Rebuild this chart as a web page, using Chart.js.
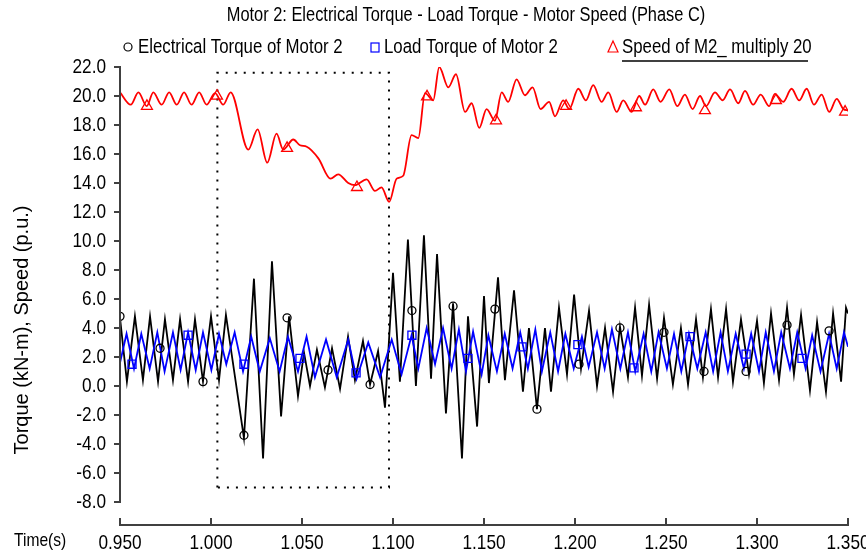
<!DOCTYPE html>
<html>
<head>
<meta charset="utf-8">
<script src="https://cdn.jsdelivr.net/npm/chart.js@4.4.1/dist/chart.umd.min.js"></script>
<style>
  body { margin: 0; background: #fff; }
  canvas { display: block; }
</style>
</head>
<body>
<canvas id="motorChart" width="866" height="560"></canvas>
<script>
// axis ticks
const xTicks = [0.95, 1.0, 1.05, 1.1, 1.15, 1.2, 1.25, 1.3, 1.35];
const yTicks = [-8, -6, -4, -2, 0, 2, 4, 6, 8, 10, 12, 14, 16, 18, 20, 22];

// electrical torque of motor 2 (kN-m), peaks and troughs
const elecTime = [0.9500,0.9538,0.9582,0.9626,0.9665,0.9709,0.9747,0.9791,0.9830,0.9874,
  0.9912,0.9956,1.0000,1.0044,1.0082,1.0181,1.0236,1.0286,1.0335,1.0385,
  1.0429,1.0478,1.0511,1.0544,1.0582,1.0626,1.0665,1.0709,1.0753,1.0791,
  1.0835,1.0874,1.0918,1.0956,1.1000,1.1038,1.1082,1.1126,1.1170,1.1209,
  1.1242,1.1291,1.1330,1.1379,1.1412,1.1462,1.1500,1.1527,1.1577,1.1615,
  1.1665,1.1714,1.1747,1.1791,1.1835,1.1868,1.1912,1.1956,1.1995,1.2033,
  1.2077,1.2121,1.2165,1.2209,1.2247,1.2291,1.2330,1.2368,1.2407,1.2451,
  1.2489,1.2538,1.2582,1.2621,1.2665,1.2703,1.2747,1.2786,1.2830,1.2868,
  1.2912,1.2956,1.3000,1.3038,1.3077,1.3121,1.3165,1.3203,1.3242,1.3291,
  1.3330,1.3379,1.3418,1.3462,1.3489,1.3500];
const elecTorque = [4.7,0.3,4.8,0.4,4.8,0.3,4.6,0.4,4.6,0.3,
  4.6,0.3,4.8,0.4,4.9,-3.6,7.4,-5.0,8.6,-2.1,
  4.8,-0.7,2.3,0.0,2.5,-0.1,2.6,-0.2,3.4,0.4,
  3.1,0.1,2.4,-1.5,7.8,0.3,10.1,0.0,10.4,0.5,
  9.1,-1.9,5.7,-5.0,4.8,-2.8,6.2,0.2,7.5,0.4,
  6.6,-0.4,4.0,-1.6,4.0,-0.4,5.4,0.8,6.3,1.2,
  5.2,0.0,4.0,-0.4,4.1,0.6,5.4,0.7,5.6,0.5,
  4.7,0.1,4.0,0.1,4.6,0.6,5.3,0.6,5.3,0.3,
  4.6,0.8,4.5,0.2,5.0,0.4,5.4,0.8,4.9,-0.3,
  4.4,-0.4,5.0,0.3,5.4,5.0];

// load torque of motor 2 (kN-m)
const loadTime = [0.9500,0.9536,0.9577,0.9617,0.9663,0.9705,0.9745,0.9791,0.9833,0.9874,
  0.9916,0.9956,1.0002,1.0044,1.0084,1.0130,1.0176,1.0221,1.0268,1.0323,
  1.0377,1.0423,1.0478,1.0525,1.0571,1.0632,1.0691,1.0754,1.0800,1.0864,
  1.0929,1.0993,1.1047,1.1102,1.1139,1.1185,1.1231,1.1275,1.1322,1.1362,
  1.1401,1.1440,1.1487,1.1524,1.1571,1.1614,1.1657,1.1699,1.1741,1.1782,
  1.1818,1.1864,1.1907,1.1947,1.1993,1.2038,1.2075,1.2121,1.2163,1.2203,
  1.2249,1.2291,1.2331,1.2377,1.2419,1.2459,1.2505,1.2544,1.2584,1.2626,
  1.2672,1.2718,1.2759,1.2800,1.2840,1.2883,1.2928,1.2968,1.3011,1.3048,
  1.3093,1.3133,1.3181,1.3221,1.3267,1.3303,1.3349,1.3396,1.3438,1.3478,
  1.3500];
const loadTorque = [1.6,3.6,1.2,3.6,1.2,3.7,1.0,3.7,1.1,3.7,
  1.1,3.7,1.1,3.6,1.5,3.7,1.0,3.4,1.0,3.3,
  1.0,3.4,1.0,3.4,0.6,3.2,0.6,3.2,0.5,3.0,
  0.6,3.2,0.8,3.5,1.2,4.0,1.5,4.0,1.2,3.9,
  1.0,3.75,0.8,3.5,1.0,3.6,1.2,3.7,1.2,3.9,
  1.0,3.7,1.0,3.6,1.2,3.4,1.3,3.7,1.2,3.9,
  1.2,3.7,1.0,3.6,1.0,3.7,1.2,3.6,1.0,3.6,
  1.2,3.7,1.0,3.7,1.0,3.6,1.2,3.6,1.0,3.7,
  1.0,3.7,1.2,3.7,1.2,3.5,1.0,3.6,1.2,3.7,
  2.7];

// speed of M2 x 20 (p.u.)
const speedTime = [0.9500,0.9559,0.9601,0.9647,0.9683,0.9729,0.9770,0.9812,0.9852,0.9893,
  0.9935,0.9976,1.0022,1.0067,1.0108,1.0205,1.0256,1.0309,1.0360,1.0397,
  1.0452,1.0489,1.0526,1.0590,1.0657,1.0699,1.0754,1.0791,1.0855,1.0901,
  1.0937,1.0979,1.1020,1.1056,1.1102,1.1139,1.1176,1.1221,1.1254,1.1304,
  1.1346,1.1396,1.1432,1.1474,1.1514,1.1560,1.1597,1.1633,1.1679,1.1725,
  1.1767,1.1811,1.1858,1.1890,1.1935,1.1968,1.2018,1.2060,1.2100,1.2146,
  1.2183,1.2229,1.2265,1.2311,1.2353,1.2385,1.2430,1.2470,1.2518,1.2562,
  1.2604,1.2646,1.2687,1.2720,1.2769,1.2811,1.2852,1.2897,1.2934,1.2979,
  1.3020,1.3067,1.3098,1.3144,1.3190,1.3232,1.3273,1.3313,1.3355,1.3397,
  1.3438,1.3474,1.3500];
const speedVal = [20.25,19.4,20.25,19.3,20.25,19.4,20.25,19.4,20.25,19.4,
  20.25,19.4,20.2,19.4,20.25,16.3,17.7,15.4,17.4,16.3,
  17.0,16.6,16.5,15.7,14.3,14.6,14.0,13.85,14.25,13.45,
  13.7,12.7,14.3,14.5,17.3,17.1,20.2,19.7,22.0,20.6,
  21.5,18.9,19.5,17.8,19.1,18.3,20.25,19.6,21.15,20.05,
  20.6,19.1,19.6,18.6,19.7,19.1,20.5,19.7,20.75,19.6,
  20.25,18.9,19.7,18.9,20.0,19.4,20.45,19.6,20.45,19.3,
  20.1,19.1,20.0,19.3,20.25,19.7,20.45,19.5,20.35,19.4,
  20.1,19.3,20.15,19.6,20.5,19.7,20.5,19.4,20.1,18.9,
  19.8,19.1,19.0];

// symbol markers along each curve
const elecMarkTime = [0.9500,0.9720,0.9956,1.0181,1.0418,1.0643,1.0874,1.1104,1.1330,1.1560,1.1791,1.2022,1.2247,1.2489,1.2709,1.2940,1.3165,1.3396];
const elecMarkVal = [4.8,2.6,0.3,-3.4,4.7,1.1,0.1,5.2,5.5,5.3,-1.6,1.5,4.0,3.7,1.0,1.0,4.2,3.8];
const loadMarkTime = [0.9566,0.9874,1.0181,1.0489,1.0797,1.1104,1.1412,1.1709,1.2016,1.2324,1.2632,1.2940,1.3247];
const loadMarkVal = [1.5,3.5,1.5,1.9,0.9,3.5,1.9,2.7,2.85,1.25,3.4,2.2,1.9];
const speedMarkTime = [0.9648,1.0033,1.0418,1.0802,1.1187,1.1566,1.1951,1.2335,1.2714,1.3104,1.3484];
const speedMarkVal = [19.3,20.0,16.4,13.7,19.95,18.3,19.3,19.2,19.0,19.7,18.9];

// dotted window around the first disturbance
const boxTime = [1.0035, 1.0978];
const boxVal = [-7.0, 21.6];

const regular = '"Liberation Sans", Arial, sans-serif';

function pairs(ts, vs) {
  return ts.map((t, i) => ({ x: t, y: vs[i] }));
}

function lineSet(label, ts, vs, color, order, smooth) {
  let ds = {
    label: label,
    data: pairs(ts, vs),
    borderColor: color,
    borderWidth: 1.8,
    pointRadius: 0,
    tension: 0,
    fill: false,
    order: order
  };
  if (smooth) ds.cubicInterpolationMode = 'monotone';
  return ds;
}

function markSet(ts, vs, color, style, radius) {
  return {
    data: pairs(ts, vs),
    showLine: false,
    pointStyle: style,
    pointRadius: radius,
    pointBorderColor: color,
    pointBackgroundColor: 'rgba(0,0,0,0)',
    pointBorderWidth: 1.3,
    order: 0
  };
}

// the source uses a condensed face, so squeeze Liberation Sans sideways
function narrowText(ctx, text, x, y, size, align) {
  ctx.save();
  ctx.translate(x, y);
  ctx.scale(0.82, 1);
  ctx.font = size + 'px ' + regular;
  ctx.textAlign = align;
  ctx.textBaseline = 'middle';
  ctx.fillStyle = '#000';
  ctx.fillText(text, 0, 0);
  ctx.restore();
}

const framePlugin = {
  id: 'frame',
  beforeDatasetsDraw(chart) {
    const { ctx, scales: { x, y } } = chart;
    const l = x.getPixelForValue(boxTime[0]), r = x.getPixelForValue(boxTime[1]);
    const b = y.getPixelForValue(boxVal[0]), t = y.getPixelForValue(boxVal[1]);
    ctx.save();
    ctx.strokeStyle = '#000';
    ctx.lineWidth = 2;
    ctx.setLineDash([2, 7]);
    ctx.beginPath();
    ctx.moveTo(l, b); ctx.lineTo(l, t); ctx.lineTo(r, t); ctx.lineTo(r, b); ctx.lineTo(l, b);
    ctx.stroke();
    ctx.restore();
  },
  afterDraw(chart) {
    const { ctx, chartArea: a, scales: { x, y } } = chart;
    ctx.save();

    // axes with their tick marks
    ctx.strokeStyle = '#404040';
    ctx.lineWidth = 2;
    ctx.beginPath();
    const yTop = y.getPixelForValue(yTicks[yTicks.length - 1]);
    const yBot = y.getPixelForValue(yTicks[0]);
    ctx.moveTo(a.left, yTop - 1); ctx.lineTo(a.left, yBot + 1);
    yTicks.forEach(v => {
      const py = y.getPixelForValue(v);
      ctx.moveTo(a.left - 6, py); ctx.lineTo(a.left, py);
    });
    ctx.moveTo(a.left - 1, a.bottom); ctx.lineTo(a.right + 1, a.bottom);
    xTicks.forEach(v => {
      const px = x.getPixelForValue(v);
      ctx.moveTo(px, a.bottom); ctx.lineTo(px, a.bottom - 7);
    });
    ctx.stroke();

    // tick labels
    yTicks.forEach(v => narrowText(ctx, v.toFixed(1), a.left - 14, y.getPixelForValue(v), 21, 'right'));
    xTicks.forEach(v => narrowText(ctx, v.toFixed(3), x.getPixelForValue(v), a.bottom + 18, 21, 'center'));

    // title
    narrowText(ctx, 'Motor 2: Electrical Torque - Load Torque - Motor Speed (Phase C)', 466, 15, 20, 'center');

    // legend
    ctx.lineWidth = 1.2;
    ctx.strokeStyle = '#000';
    ctx.beginPath(); ctx.arc(128, 47, 4, 0, Math.PI * 2); ctx.stroke();
    narrowText(ctx, 'Electrical Torque of Motor 2', 138, 47, 20.5, 'left');
    ctx.strokeStyle = '#0000ff';
    ctx.strokeRect(371, 43, 8, 9);
    narrowText(ctx, 'Load Torque of Motor 2', 384, 47, 20.5, 'left');
    ctx.strokeStyle = '#ff0000';
    ctx.beginPath(); ctx.moveTo(613, 41); ctx.lineTo(618, 52); ctx.lineTo(608, 52); ctx.closePath(); ctx.stroke();
    narrowText(ctx, 'Speed of M2_ multiply 20', 622, 47, 20.5, 'left');
    ctx.strokeStyle = '#000';
    ctx.lineWidth = 1.5;
    ctx.beginPath(); ctx.moveTo(622, 61); ctx.lineTo(808, 61); ctx.stroke();

    // axis titles
    narrowText(ctx, 'Time(s)', 14, 541, 19, 'left');
    ctx.save();
    ctx.translate(22, 330);
    ctx.rotate(-Math.PI / 2);
    ctx.textAlign = 'center';
    ctx.textBaseline = 'middle';
    ctx.fillStyle = '#000';
    ctx.font = '20px ' + regular;
    ctx.fillText('Torque (kN-m), Speed (p.u.)', 0, 0);
    ctx.restore();

    ctx.restore();
  }
};

new Chart(document.getElementById('motorChart'), {
  type: 'line',
  data: {
    datasets: [
      markSet(elecMarkTime, elecMarkVal, '#000000', 'circle', 4),
      markSet(loadMarkTime, loadMarkVal, '#0000ff', 'rect', 5.7),
      markSet(speedMarkTime, speedMarkVal, '#ff0000', 'triangle', 6.3),
      lineSet('Load Torque of Motor 2', loadTime, loadTorque, '#0000ff', 1, false),
      lineSet('Electrical Torque of Motor 2', elecTime, elecTorque, '#000000', 2, false),
      lineSet('Speed of M2_ multiply 20', speedTime, speedVal, '#ff0000', 3, true)
    ]
  },
  options: {
    responsive: false,
    animation: false,
    devicePixelRatio: 1,
    layout: { padding: { top: 67, right: 18, left: 0, bottom: 0 } },
    plugins: {
      legend: { display: false },
      title: { display: false },
      tooltip: { enabled: false }
    },
    scales: {
      x: {
        type: 'linear',
        min: 0.95,
        max: 1.35,
        grid: { display: false },
        border: { display: false },
        ticks: { display: false },
        afterFit: s => { s.height = 35; s.paddingLeft = 0; s.paddingRight = 0; }
      },
      y: {
        min: -9.59,
        max: 22,
        grid: { display: false },
        border: { display: false },
        ticks: { display: false },
        afterFit: s => { s.width = 120; s.paddingTop = 0; s.paddingBottom = 0; }
      }
    }
  },
  plugins: [framePlugin]
});
</script>
</body>
</html>
